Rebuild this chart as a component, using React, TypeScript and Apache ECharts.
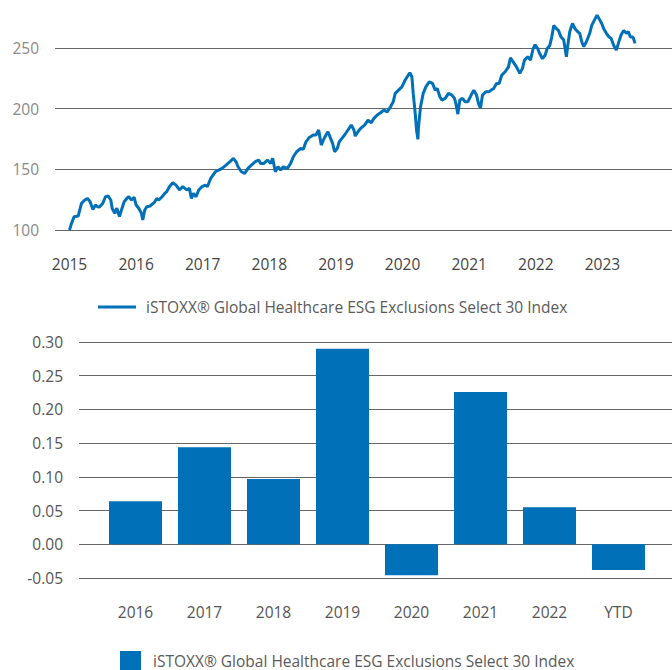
import React, { useEffect, useRef } from "react";
import * as echarts from "echarts";

const SERIES_NAME = "iSTOXX® Global Healthcare ESG Exclusions Select 30 Index";

// Top chart: index level over time (decimal year, value)
const lineYears = [
  2015.0, 2015.03, 2015.07, 2015.13, 2015.18, 2015.23, 2015.27, 2015.31, 2015.35, 2015.39,
  2015.42, 2015.45, 2015.5, 2015.54, 2015.58, 2015.62, 2015.64, 2015.68, 2015.71, 2015.75,
  2015.78, 2015.82, 2015.86, 2015.89, 2015.93, 2015.97, 2016.0, 2016.04, 2016.08, 2016.1,
  2016.13, 2016.16, 2016.21, 2016.27, 2016.31, 2016.34, 2016.39, 2016.43, 2016.46, 2016.5,
  2016.55, 2016.6, 2016.65, 2016.7, 2016.76, 2016.8, 2016.83, 2016.86, 2016.9, 2016.94,
  2016.99, 2017.04, 2017.07, 2017.12, 2017.19, 2017.24, 2017.29, 2017.35, 2017.41, 2017.46,
  2017.5, 2017.53, 2017.58, 2017.63, 2017.68, 2017.73, 2017.79, 2017.84, 2017.87, 2017.92,
  2017.97, 2018.02, 2018.05, 2018.09, 2018.13, 2018.17, 2018.21, 2018.27, 2018.32, 2018.36,
  2018.41, 2018.47, 2018.51, 2018.55, 2018.6, 2018.66, 2018.7, 2018.74, 2018.78, 2018.81,
  2018.85, 2018.88, 2018.92, 2018.95, 2018.98, 2019.02, 2019.05, 2019.09, 2019.13, 2019.18,
  2019.23, 2019.27, 2019.29, 2019.33, 2019.37, 2019.43, 2019.48, 2019.53, 2019.57, 2019.62,
  2019.67, 2019.72, 2019.77, 2019.82, 2019.86, 2019.89, 2019.94, 2019.99, 2020.04, 2020.07,
  2020.11, 2020.14, 2020.16, 2020.19, 2020.21, 2020.23, 2020.24, 2020.27, 2020.31, 2020.35,
  2020.4, 2020.45, 2020.49, 2020.52, 2020.56, 2020.59, 2020.64, 2020.69, 2020.74, 2020.78,
  2020.8, 2020.83, 2020.86, 2020.9, 2020.94, 2020.98, 2021.03, 2021.07, 2021.11, 2021.14,
  2021.17, 2021.2, 2021.25, 2021.3, 2021.33, 2021.37, 2021.41, 2021.45, 2021.49, 2021.54,
  2021.59, 2021.62, 2021.66, 2021.71, 2021.76, 2021.8, 2021.83, 2021.88, 2021.92, 2021.96,
  2021.99, 2022.03, 2022.06, 2022.1, 2022.14, 2022.17, 2022.21, 2022.24, 2022.27, 2022.31,
  2022.34, 2022.38, 2022.42, 2022.44, 2022.46, 2022.48, 2022.51, 2022.55, 2022.59, 2022.63,
  2022.66, 2022.69, 2022.72, 2022.76, 2022.81, 2022.84, 2022.88, 2022.92, 2022.95, 2022.99,
  2023.02, 2023.06, 2023.1, 2023.13, 2023.17, 2023.21, 2023.24, 2023.28, 2023.32, 2023.36,
  2023.39, 2023.42, 2023.46, 2023.49,
];
const lineValues = [
  100, 105.5, 111, 111.5, 122, 124.7, 126, 123.3, 117, 120.6,
  119.2, 119, 122, 127.4, 128, 124.7, 117.9, 113.7, 118, 111,
  116.5, 123.3, 126, 127.4, 124.7, 127, 120.6, 117.9, 113.7, 108.2,
  116.5, 119.2, 119.8, 122.5, 126, 124.7, 127.4, 130.2, 131.6, 135.7,
  139, 137, 133, 135.7, 133, 134.3, 126, 130.2, 127.4, 133,
  135.7, 137, 135.7, 142.6, 148, 149.4, 150.8, 153.5, 156.3, 159,
  156.3, 152.1, 148, 146.7, 150.8, 153.5, 156.3, 157.7, 154.9, 154.9,
  157.7, 154.9, 159, 148, 152.1, 149.4, 152.1, 150.8, 154.9, 160.4,
  164.5, 167.3, 166.5, 172.7, 176.3, 178.3, 178.3, 182.4, 170, 174.1,
  178.3, 181, 175.5, 171.4, 164.5, 167.3, 172.7, 175.5, 178.3, 182.4,
  186.5, 182.4, 177.4, 181, 183.8, 186.5, 190.6, 188.4, 192, 194.7,
  196.6, 198.8, 197.4, 201.6, 205.7, 212.6, 215.3, 218, 223.6, 226.3,
  229.6, 226.3, 212.6, 196.1, 182.4, 174.7, 185.1, 201.6, 212.6, 218,
  222.2, 220.8, 215.3, 216.7, 209.8, 207.1, 208.5, 212.6, 211.2, 208.5,
  204.4, 195.5, 207.1, 208.5, 205.7, 205.7, 211.2, 215.3, 211.2, 204.4,
  200.3, 211.2, 214, 214, 215.3, 216.7, 220.8, 220.8, 227.7, 230.4,
  234.5, 241.9, 238.6, 234.5, 229.1, 233.2, 240, 242.8, 240, 249.4,
  252.7, 249.4, 245.3, 241.2, 244, 249.4, 252.1, 259, 268.6, 265.9,
  264.5, 259, 256.5, 249.4, 242.8, 252.1, 263.4, 270.2, 265.9, 263.4,
  262.1, 255.2, 251.1, 255.2, 262.1, 268.6, 273, 277.1, 274.2, 270.2,
  265.9, 262.1, 259, 258, 252.1, 248.3, 253.8, 260.7, 264.5, 262.1,
  263.4, 259, 259, 253.8,
];
const lineYTicks = [100, 150, 200, 250];

// Bottom chart: yearly returns
const barCategories = ["2016", "2017", "2018", "2019", "2020", "2021", "2022", "YTD"];
const barValues = [0.064, 0.144, 0.097, 0.29, -0.046, 0.226, 0.055, -0.038];

const BLUE = "#0070b8";
const FONT = "'Open Sans', sans-serif";
const FS = 15.5;

export default function App() {
  const ref = useRef<HTMLDivElement>(null);
  useEffect(() => {
    if (!ref.current) return;
    const chart = echarts.init(ref.current, undefined, { renderer: "svg" });
    const linePairs = lineYears.map((y, i) => [y, lineValues[i]]);
    const gridLine = { color: "#666", width: 1 };
    const option: any = {
      animation: false,
      textStyle: { fontFamily: FONT },
      grid: [
        { left: 69.5, right: -14.9, top: 48, height: 182 },
        { left: 55, right: 0, top: 48, height: 182 },
        { left: 101, right: 19, top: 342, height: 236 },
        { left: 79, right: 0, top: 342, height: 236 },
      ],
      xAxis: [
        {
          gridIndex: 0, type: "value", min: 2015, max: 2024, interval: 1,
          axisLine: { show: false }, axisTick: { show: false }, splitLine: { show: false },
          axisLabel: {
            color: "#444", fontSize: FS, fontFamily: FONT, margin: 26,
            formatter: (v: number) => (v >= 2024 ? "" : String(v)),
          },
        },
        { gridIndex: 1, type: "value", show: false, min: 0, max: 1 },
        {
          gridIndex: 2, type: "category", data: barCategories,
          axisLine: { show: false }, axisTick: { show: false }, splitLine: { show: false },
          axisLabel: { color: "#555", fontSize: FS, fontFamily: FONT, margin: 26 },
        },
        { gridIndex: 3, type: "value", show: false, min: 0, max: 1 },
      ],
      yAxis: [
        { gridIndex: 0, type: "value", min: 100, max: 250, interval: 50, show: false },
        {
          gridIndex: 1, type: "value", min: lineYTicks[0], max: lineYTicks[lineYTicks.length - 1], interval: 50,
          axisLine: { show: false }, axisTick: { show: false },
          splitLine: { show: true, lineStyle: gridLine },
          axisLabel: { color: "#8a8a8a", fontSize: FS, fontFamily: FONT, margin: 16 },
        },
        { gridIndex: 2, type: "value", min: -0.05, max: 0.3, interval: 0.05, show: false },
        {
          gridIndex: 3, type: "value", min: -0.05, max: 0.3, interval: 0.05,
          axisLine: { show: false }, axisTick: { show: false },
          splitLine: { show: true, lineStyle: gridLine },
          axisLabel: {
            color: "#555", fontSize: FS, fontFamily: FONT, margin: 16,
            formatter: (v: number) => v.toFixed(2),
          },
        },
      ],
      legend: [
        {
          left: 98, top: 299, padding: 0, itemWidth: 38, itemHeight: 3, itemGap: 10,
          textStyle: { color: "#5a5a5a", fontSize: FS, fontFamily: FONT, padding: [0, 0, 0, 5] },
          data: [{ name: SERIES_NAME, icon: "rect" }],
          itemStyle: { color: BLUE },
          selectedMode: false,
        },
        {
          left: 120, top: 651, padding: 0, itemWidth: 21, itemHeight: 19, itemGap: 10,
          textStyle: { color: "#5a5a5a", fontSize: FS, fontFamily: FONT, padding: [0, 0, 0, 7] },
          data: [{ name: SERIES_NAME, icon: "rect" }],
          itemStyle: { color: BLUE },
          selectedMode: false,
        },
      ],
      series: [
        {
          name: SERIES_NAME, type: "line", xAxisIndex: 0, yAxisIndex: 0,
          data: linePairs, symbol: "none", clip: false,
          lineStyle: { color: BLUE, width: 3 }, itemStyle: { color: BLUE },
        },
        {
          name: SERIES_NAME, type: "bar", xAxisIndex: 2, yAxisIndex: 2,
          data: barValues, barWidth: 53, itemStyle: { color: BLUE },
        },
      ],
    };
    chart.setOption(option);
    return () => chart.dispose();
  }, []);
  return (
    <div
      ref={ref}
      style={{ position: "fixed", left: 0, top: 0, width: 672, height: 670, background: "#fff" }}
    />
  );
}
